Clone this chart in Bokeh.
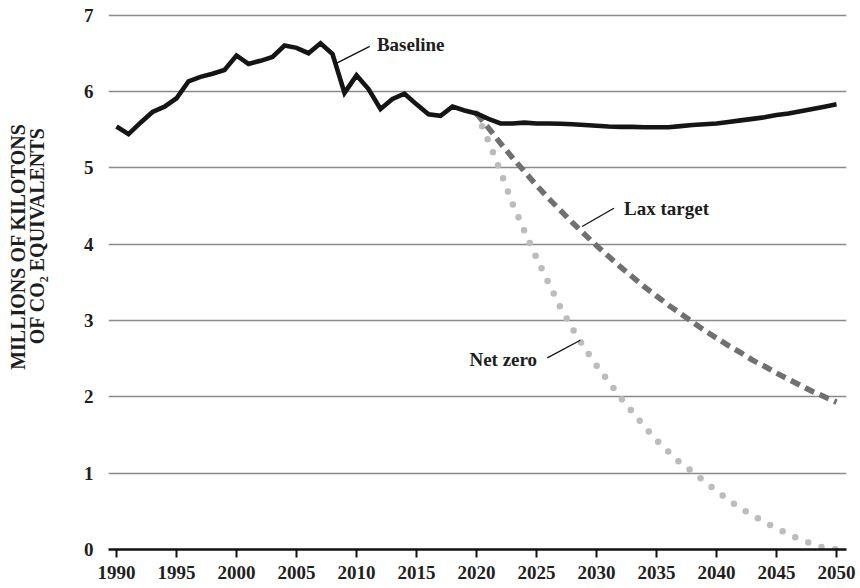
import math
from bokeh.plotting import figure
from bokeh.models import Range1d, FixedTicker, Label, ColumnDataSource, Title
from bokeh.embed import file_html
from bokeh.resources import INLINE

# ---- data ----
years_hist = list(range(1990, 2051))
baseline = [5.54, 5.44, 5.59, 5.73, 5.80, 5.91, 6.13, 6.19, 6.23, 6.28,
            6.47, 6.36, 6.40, 6.45, 6.60, 6.57, 6.50, 6.63, 6.49, 5.98,
            6.21, 6.03, 5.77, 5.90, 5.97, 5.83, 5.70, 5.68, 5.80, 5.75,
            5.71, 5.64, 5.58, 5.58, 5.59, 5.58, 5.58, 5.575, 5.57, 5.56,
            5.55, 5.54, 5.535, 5.535, 5.53, 5.53, 5.53, 5.545, 5.56, 5.57,
            5.58, 5.60, 5.62, 5.64, 5.66, 5.69, 5.71, 5.74, 5.77, 5.80, 5.83]
years_proj = list(range(2020, 2051))
lax_target = [5.71, 5.52, 5.32, 5.13, 4.95, 4.77, 4.60, 4.44, 4.28, 4.13,
              3.98, 3.84, 3.70, 3.57, 3.44, 3.32, 3.20, 3.09, 2.98, 2.87,
              2.77, 2.67, 2.58, 2.48, 2.40, 2.31, 2.23, 2.15, 2.07, 2.00, 1.93]
net_zero = [5.71, 5.35, 4.95, 4.53, 4.17, 3.82, 3.49, 3.17, 2.89, 2.64,
            2.41, 2.20, 1.99, 1.80, 1.61, 1.43, 1.28, 1.13, 1.02, 0.89,
            0.77, 0.65, 0.54, 0.45, 0.36, 0.28, 0.20, 0.13, 0.07, 0.02, 0.00]
x_ticks = list(range(1990, 2051, 5))
y_ticks = [0, 1, 2, 3, 4, 5, 6, 7]
series_labels = ["Baseline", "Lax target", "Net zero"]
y_title = ["MILLIONS OF KILOTONS", "OF CO\u2082 EQUIVALENTS"]

FONT = "Liberation Serif"
TXT = "#1e1e1e"

p = figure(width=860, height=588,
           x_range=Range1d(1989.333, 2050.833), y_range=Range1d(0, 7.033),
           output_backend="svg", toolbar_location=None,
           min_border_left=108, min_border_right=14,
           min_border_top=12, min_border_bottom=39)
p.outline_line_color = None
p.background_fill_color = "white"
p.border_fill_color = "white"

# grid
p.xgrid.grid_line_color = None
p.ygrid.grid_line_color = "#8a8a8a"
p.ygrid.grid_line_width = 1.3
p.ygrid.ticker = FixedTicker(ticks=y_ticks)

# x axis
xa = p.xaxis[0]
xa.ticker = FixedTicker(ticks=x_ticks)
xa.axis_line_color = "#111111"
xa.axis_line_width = 2.6
xa.major_tick_line_color = "#111111"
xa.major_tick_line_width = 2
xa.major_tick_out = 8
xa.major_tick_in = 0
xa.minor_tick_line_color = None
xa.major_label_standoff = 8
xa.major_label_text_font = FONT
xa.major_label_text_font_style = "bold"
xa.major_label_text_font_size = "19px"
xa.major_label_text_color = TXT

# y axis
ya = p.yaxis[0]
ya.ticker = FixedTicker(ticks=y_ticks)
ya.axis_line_color = None
ya.major_tick_line_color = None
ya.minor_tick_line_color = None
ya.major_tick_out = 0
ya.major_tick_in = 0
ya.major_label_standoff = 15
ya.major_label_text_font = FONT
ya.major_label_text_font_style = "bold"
ya.major_label_text_font_size = "19px"
ya.major_label_text_color = TXT

# y axis title: spacer + two rotated lines as left-side titles
has_standoff = "standoff" in Title.properties()
spacer = dict(text=" ", text_font=FONT, text_font_size="19px",
              text_color="white")
if has_standoff:
    spacer["standoff"] = 11
p.add_layout(Title(**spacer), "left")
for t, off in [(y_title[1], 115), (y_title[0], 111)]:
    kw = dict(text=t, align="right", vertical_align="middle", offset=off,
              text_font=FONT, text_font_style="bold", text_font_size="20px",
              text_color=TXT)
    if has_standoff:
        kw["standoff"] = -5
    p.add_layout(Title(**kw), "left")

# series
p.line(years_proj, net_zero, line_color="#bcbcbc", line_width=6.5,
       line_dash="0 14", line_cap="round")
p.line(years_proj, lax_target, line_color="#707070", line_width=5.5,
       line_dash="10 6", line_cap="butt")
p.line(years_hist, baseline, line_color="#151515", line_width=4.6,
       line_join="miter")

# leader lines
lead = ColumnDataSource(dict(x0=[2008.35, 2028.8, 2025.9],
                             y0=[6.37, 4.23, 2.51],
                             x1=[2011.1, 2031.45, 2028.65],
                             y1=[6.59, 4.47, 2.74]))
p.segment(x0="x0", y0="y0", x1="x1", y1="y1", source=lead,
          line_color="#111111", line_width=1.3)

def ann(x, y, text, align):
    p.add_layout(Label(x=x, y=y, text=text, text_font=FONT,
                       text_font_style="bold", text_font_size="19px",
                       text_color=TXT, text_align=align,
                       text_baseline="middle"))

ann(2011.7, 6.61, series_labels[0], "left")
ann(2032.3, 4.46, series_labels[1], "left")
ann(2025.05, 2.49, series_labels[2], "right")

open("out.html", "w").write(file_html(p, INLINE))
